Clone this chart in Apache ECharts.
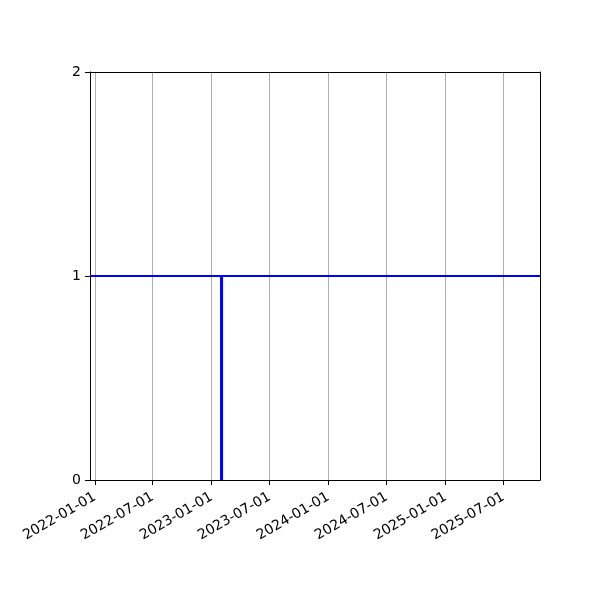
<!DOCTYPE html>
<html>
<head>
<meta charset="utf-8">
<script src="https://cdn.jsdelivr.net/npm/echarts@6/dist/echarts.min.js"></script>
<style>html,body{margin:0;padding:0;background:#fff}#c{width:600px;height:600px}</style>
</head>
<body>
<div id="c"></div>
<script>
// Data
var xRange = ['2021-12-17', '2025-10-23'];
var tickDates = ['2022-01-01','2022-07-01','2023-01-01','2023-07-01','2024-01-01','2024-07-01','2025-01-01','2025-07-01'];
var yTicks = [0, 1, 2];
var levelValue = 1;
var eventDate = '2023-02-01';
var eventValues = [0, 1];

function ts(s){ var p = s.split('-'); return Date.UTC(+p[0], +p[1]-1, +p[2]); }
function pad(n){ return (n<10?'0':'') + n; }
function fmt(v){ var d = new Date(v); return d.getUTCFullYear() + '-' + pad(d.getUTCMonth()+1) + '-' + pad(d.getUTCDate()); }

var xMin = ts(xRange[0]), xMax = ts(xRange[1]);
var tickVals = tickDates.map(ts);
var font = 'DejaVu Sans';
var spine = {show: true, onZero: false, lineStyle: {color: '#000', width: 1}};

var chart = echarts.init(document.getElementById('c'), null, {renderer: 'canvas'});
chart.setOption({
  animation: false,
  backgroundColor: '#fff',
  grid: {left: 90, right: 60, top: 72, bottom: 120, show: false},
  xAxis: [{
    type: 'value', min: xMin, max: xMax, scale: true, position: 'bottom',
    axisLine: spine,
    axisTick: {show: true, inside: false, length: 5, customValues: tickVals, lineStyle: {color: '#000'}},
    axisLabel: {show: true, customValues: tickVals, rotate: 30, color: '#000', fontFamily: font, fontSize: 14, margin: 16,
      formatter: function(v){ return fmt(v); }, hideOverlap: false, showMinLabel: true, showMaxLabel: true},
    splitLine: {show: true, lineStyle: {color: '#b0b0b0', width: 1}},
    minorTick: {show: false}
  }, {
    type: 'value', min: xMin, max: xMax, scale: true, position: 'top',
    axisLine: spine, axisTick: {show: false}, axisLabel: {show: false}, splitLine: {show: false}
  }],
  yAxis: [{
    type: 'value', min: yTicks[0], max: yTicks[yTicks.length-1], interval: 1, position: 'left',
    axisLine: spine,
    axisTick: {show: true, inside: false, length: 5, lineStyle: {color: '#000'}},
    axisLabel: {color: '#000', fontFamily: font, fontSize: 14, margin: 9},
    splitLine: {show: false}
  }, {
    type: 'value', min: yTicks[0], max: yTicks[yTicks.length-1], interval: 1, position: 'right',
    axisLine: spine, axisTick: {show: false}, axisLabel: {show: false}, splitLine: {show: false}
  }],
  series: [
    {type: 'line', data: [[xMin, levelValue], [xMax, levelValue]], symbol: 'none',
      lineStyle: {color: '#0000ff', width: 2}, z: 3},
    {type: 'line', data: eventValues.map(function(v){ return [ts(eventDate), v]; }), symbol: 'none',
      lineStyle: {color: '#0000ff', width: 3}, z: 3}
  ]
});
</script>
</body>
</html>
